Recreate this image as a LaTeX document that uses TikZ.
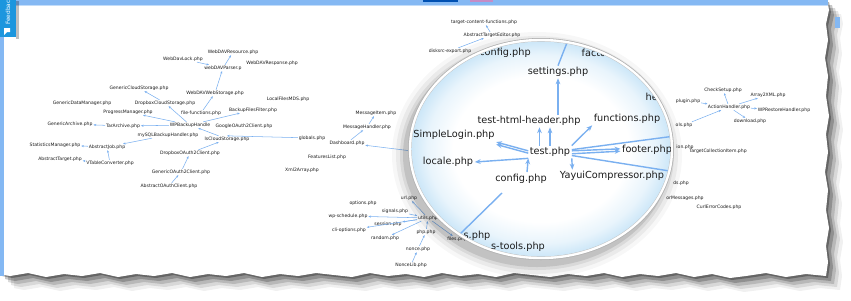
\documentclass[tikz,border=0pt]{standalone}
\usepackage{fontspec}
\setmainfont{DejaVu Sans}
\usepackage{tikz}
\usepackage{xcolor}
\usetikzlibrary{arrows.meta, calc}

\definecolor{edgeblue}{RGB}{122,176,240}
\definecolor{barblue}{RGB}{132,184,243}
\definecolor{tabblue}{RGB}{28,150,222}
\definecolor{lensblue}{RGB}{205,231,248}
\definecolor{inkgray}{RGB}{28,28,28}

\pgfdeclareradialshading{lensglow}{\pgfpoint{0bp}{0bp}}{color(0bp)=(white); color(17bp)=(white); color(22bp)=(lensblue!45); color(25bp)=(lensblue); color(50bp)=(lensblue)}

% torn sheet outline (pixel grid, y down)
\newcommand\tornpage{(0,0) -- (827,0) -- (829,10) -- (826,24) -- (828,40) -- (825,58) -- (828,76) -- (826,96) -- (829,116) -- (826,134) -- (828,152) -- (825,172) -- (828,190) -- (826,210) -- (829,228) -- (826,246) -- (828,262) -- (826,276) -- (806,274) -- (786,277) -- (766,273) -- (746,276) -- (730,278) -- (712,274) -- (694,277) -- (676,273) -- (658,276) -- (640,274) -- (622,277) -- (604,273) -- (586,276) -- (568,274) -- (550,277) -- (532,275) -- (514,273) -- (496,277) -- (478,274) -- (460,276) -- (442,273) -- (424,277) -- (406,274) -- (388,276) -- (370,273) -- (352,277) -- (334,275) -- (316,273) -- (298,276) -- (280,274) -- (262,277) -- (244,273) -- (226,276) -- (208,274) -- (190,277) -- (172,273) -- (154,276) -- (136,274) -- (118,277) -- (100,273) -- (82,276) -- (64,274) -- (46,277) -- (28,273) -- (10,276) -- (0,274) -- cycle}

\begin{document}
\begin{tikzpicture}[
  x=0.03cm, y=-0.03cm,
  php/.style={font=\fontsize{3.9}{4.5}\selectfont, text=inkgray, inner sep=0.6pt},
  zoomed/.style={font=\fontsize{8.3}{9.5}\selectfont, text=inkgray, inner sep=1.2pt},
  dep/.style={-{Stealth[length=2.2pt, width=1.8pt]}, edgeblue, line width=0.45pt},
  bigdep/.style={-{Stealth[length=5pt, width=4pt]}, edgeblue, line width=1.2pt},
  bigline/.style={edgeblue, line width=1.2pt},
]
\useasboundingbox (0,0) rectangle (851,300);

% sheet with shadow
\foreach \d/\o in {14/0.06, 11/0.1, 8/0.15, 5/0.22, 2/0.3}
  \fill[black, opacity=\o, shift={(\d,\d)}] \tornpage;
\fill[white] \tornpage;
\fill[barblue] (835,17) rectangle (840,28);

% window bars
\fill[barblue] (0,0) rectangle (828,5.5);
\draw[barblue!50!white, line width=0.5pt] (16,5.5) -- (828,5.5);
\fill[blue!55!cyan!70!black] (423,0) rectangle (458,2);
\fill[violet!45] (470,0) rectangle (493,2);
\fill[barblue] (0,0) rectangle (4,276);

% feedback tab
\fill[black, opacity=0.25] (16,1) rectangle (18.5,38.5);
\fill[tabblue] (0,0) rectangle (16,37);
\node[rotate=90, text=white, font=\fontsize{5}{6}\selectfont, inner sep=0pt] (feedback) at (8,11) {Feedback};
\fill[white] (4,28) -- (10,28) -- (10,32) -- (7,32) -- (4,35) -- cycle;

% backup cluster
\node[php] (wd-res) at (233,52) {WebDAVResource.php};
\node[php] (wd-lock) at (183,59) {WebDavLock.php};
\node[php] (wd-parser) at (223,68) {webDAVParser.p};
\node[php] (wd-resp) at (272,63) {WebDAVResponse.php};
\node[php] (cloud-gen) at (139,88) {GenericCloudStorage.php};
\node[php] (wd-store) at (215,93) {WebDAVWebStorage.php};
\node[php] (local-mds) at (288,99) {LocalFilesMDS.php};
\node[php] (data-gen) at (82,103) {GenericDataManager.php};
\node[php] (dropbox-cs) at (165,103) {DropboxCloudStorage.php};
\node[php] (progress) at (128,112) {ProgressManager.php};
\node[php] (file-fn) at (201,113) {file-functions.php};
\node[php] (files-filter) at (253,110) {BackupFilesFilter.php};
\node[php] (archive-gen) at (70,124) {GenericArchive.php};
\node[php] (tar) at (123,126) {TarArchive.php};
\node[php] (wp-backup) at (190,125) {WPBackupHandle};
\node[php] (google) at (244,126) {GoogleOAuth2Client.php};
\node[php] (mysql) at (168,135) {mySQLBackupHandler.php};
\node[php] (ls-cloud) at (227,139) {lsCloudStorage.php};
\node[php] (stats) at (55,145) {StatisticsManager.php};
\node[php] (job) at (107,147) {AbstractJob.php};
\node[php] (target) at (60,159) {AbstractTarget.php};
\node[php] (vtable) at (110,163) {VTableConverter.php};
\node[php] (dropbox-oa) at (190,153) {DropboxOAuth2Client.php};
\node[php] (oauth2-gen) at (181,172) {GenericOAuth2Client.php};
\node[php] (oauth) at (169,186) {AbstractOAuthClient.php};

% dashboard cluster
\node[php] (xml2arr) at (302,170) {Xml2Array.php};
\node[php] (globals) at (312,138) {globals.php};
\node[php] (msg-item) at (376,113) {MessageItem.php};
\node[php] (msg-handler) at (367,127) {MessageHandler.php};
\node[php] (dashboard) at (347,143) {Dashboard.php};
\node[php] (features) at (327,157) {FeaturesList.php};
\node[php] (tcf) at (484,22) {target-content-functions.php};
\node[php] (target-ed) at (492,35) {AbstractTargetEditor.php};
\node[php] (disksrc) at (450,51) {disksrc-export.php};
\coordinate (dash-in) at (412,151);

% utils cluster
\node[php] (url) at (409,198) {url.php};
\node[php] (options) at (363,203) {options.php};
\node[php] (signals) at (395,211) {signals.php};
\node[php] (wp-sched) at (348,216) {wp-schedule.php};
\node[php] (utils) at (428,218) {utils.php};
\node[php] (session) at (388,224) {session.php};
\node[php] (cli) at (349,230) {cli-options.php};
\node[php] (php-php) at (426,232) {php.php};
\node[php] (random) at (385,238) {random.php};
\node[php] (files) at (457,239) {files.php};
\node[php] (nonce) at (418,249) {nonce.php};
\node[php] (noncelib) at (411,265) {NonceLib.php};

% restore cluster
\node[php] (check) at (723,90) {CheckSetup.php};
\node[php] (arr2xml) at (768,95) {Array2XML.php};
\node[php] (plugin) at (688,101) {plugin.php};
\node[php] (action) at (729,107) {ActionHandler.php};
\node[php] (wp-restore) at (784,110) {WPRestoreHandler.php};
\node[php] (download) at (750,121) {download.php};
\node[php] (ols) at (684,125) {ols.php};
\node[php] (ion) at (685,147) {ion.php};
\node[php] (tci) at (718,151) {TargetCollectionItem.php};
\node[php] (ds) at (681,183) {ds.php};
\node[php] (err-msg) at (685,198) {orMessages.php};
\node[php] (curl) at (719,207) {CurlErrorCodes.php};

% small edges
\draw[dep] (wd-lock) -- (wd-parser);
\draw[dep] (wd-parser) -- (wd-res);
\draw[dep] (wd-store) -- (wd-parser);
\draw[dep] (file-fn) -- (wd-store);
\draw[dep] (dropbox-cs) -- (cloud-gen);
\draw[dep] (wp-backup) -- (dropbox-cs);
\draw[dep] (wp-backup) -- (files-filter);
\draw[dep] (wp-backup) -- (progress);
\draw[dep] (wp-backup) -- (tar);
\draw[dep] (tar) -- (archive-gen);
\draw[dep] (mysql) -- (job);
\draw[dep] (job) -- (stats);
\draw[dep] (vtable) -- (target);
\draw[dep] (vtable) -- (job);
\draw[dep] (dropbox-oa) -- (ls-cloud);
\draw[dep] (oauth2-gen) -- (dropbox-oa);
\draw[dep] (oauth) -- (oauth2-gen);
\draw[dep] (ls-cloud) -- (wp-backup);
\draw[dep] (globals) -- (ls-cloud.north);
\draw[dep] (dashboard) -- (msg-handler);
\draw[dep] (msg-handler) -- (msg-item);
\draw[dep] (dash-in) -- (dashboard);
\draw[dep] (target-ed) -- (tcf);
\draw[dep] (disksrc) -- (target-ed);
\draw[dep] (utils) -- (url);
\draw[dep] (signals) -- (utils);
\draw[dep] (utils) -- (wp-sched);
\draw[dep] (utils) -- (session);
\draw[dep] (utils) -- (cli);
\draw[dep] (utils) -- (random);
\draw[dep] (php-php) -- (utils);
\draw[dep] (nonce) -- (php-php);
\draw[dep] (noncelib) -- (nonce);
\draw[dep] (utils) -- (files);
\draw[dep] (plugin) -- (action);
\draw[dep] (action) -- (check);
\draw[dep] (action) -- (arr2xml);
\draw[dep] (action) -- (download);
\draw[dep] (action) -- (wp-restore);
\draw[dep] (ols) -- (action);

% magnifier
\coordinate (lens) at (541,149);
\foreach \r/\o in {14/0.03, 10/0.05, 6/0.07, 3/0.1}
  \fill[black, opacity=\o] (537,155) ellipse ({131+\r} and {109+\r});
\fill[gray!60] (lens) ellipse (133 and 111);
\fill[white] (lens) ellipse (132.2 and 110.2);
\fill[gray!45] (lens) ellipse (129.8 and 107.8);

\begin{scope}
\clip (lens) ellipse (129.3 and 107.3);
\shade[shading=lensglow] (lens) ellipse (129.3 and 107.3);

\node[zoomed] (cfg-top) at (505,53) {config.php};
\node[zoomed, anchor=west] (facto) at (580,53) {facto};
\node[zoomed] (settings) at (558,72) {settings.php};
\node[zoomed, anchor=west] (he) at (644,97) {he};
\node[zoomed] (hdr) at (529,121) {test-html-header.php};
\node[zoomed] (functions) at (627,119) {functions.php};
\node[zoomed] (simple) at (454,135) {SimpleLogin.php};
\node[zoomed] (test) at (550,152) {test.php};
\node[zoomed] (footer) at (647,150) {footer.php};
\node[zoomed] (locale) at (448,162) {locale.php};
\node[zoomed] (cfg) at (521,179) {config.php};
\node[zoomed] (yayui) at (612,176) {YayuiCompressor.php};
\node[zoomed] (s-php) at (477,236) {s.php};
\node[zoomed] (tools) at (518,247) {s-tools.php};
\coordinate (top-out) at (572,30);
\coordinate (right-out) at (675,136);
\coordinate (low-out) at (676,172);
\coordinate (files-in) at (458,236);
\coordinate (cfg-in) at (502,193);
\coordinate (cfg-out) at (527,172);

\draw[bigdep] (hdr.north -| settings.south) -- (settings.south);
\draw[bigline] (settings.north) -- (top-out);
\draw[bigdep] ([xshift=-9pt]test.north) -- ([xshift=-9pt]test.north |- hdr.south);
\draw[bigdep] (test.north) -- (test.north |- hdr.south);
\draw[bigdep] (test.north east) -- (functions.south west);
\draw[bigdep] ([yshift=1pt]test.east) -- ([yshift=1pt]footer.west);
\draw[bigdep] ([yshift=-1.5pt]test.east) -- ([yshift=-1pt]footer.west);
\draw[bigline] ([yshift=2pt]test.east) -- (right-out);
\draw[bigline] ([yshift=-3pt]test.east) -- (low-out);
\draw[bigdep] (test.south east) -- ([xshift=12pt]yayui.north west);
\draw[bigdep] ([yshift=1pt]test.west) -- ([yshift=-6pt]simple.east);
\draw[bigdep] ([yshift=-1pt]test.west) -- ([yshift=-8pt]simple.east);
\draw[bigdep] (test.south west) -- (locale.east);
\draw[bigdep] (cfg-out) -- (test.south west);
\draw[bigline] (files-in) -- (cfg-in);
\end{scope}

\end{tikzpicture}
\end{document}
